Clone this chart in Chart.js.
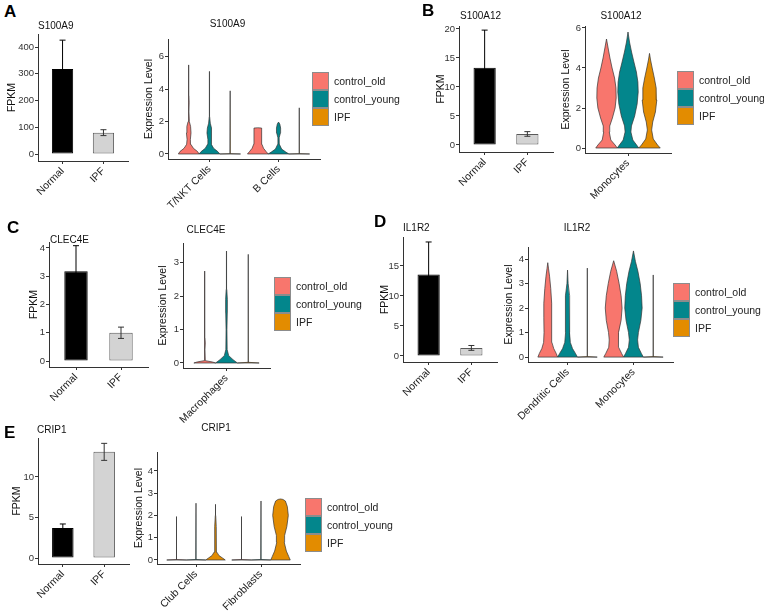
<!DOCTYPE html>
<html>
<head>
<meta charset="utf-8">
<script src="https://cdn.jsdelivr.net/npm/chart.js@4.4.0/dist/chart.umd.min.js"></script>
<style>
  html, body { margin: 0; background: #fff; }
  body { position: relative; width: 764px; height: 612px; overflow: hidden; font-family: "Liberation Sans", Arial, sans-serif; }
  canvas { position: absolute; }
  .letter { position: absolute; font-weight: bold; font-size: 17px; line-height: 17px; color: #000; }
  .ttl { position: absolute; font-size: 10px; line-height: 10px; color: #111; white-space: nowrap; }
  .leg { position: absolute; font-size: 10.5px; color: #222; }
  .leg div { height: 18px; display: flex; align-items: center; white-space: nowrap; }
  .leg span { display: inline-block; box-sizing: border-box; width: 17px; height: 18px; border: 1px solid #8c8c8c; margin-right: 5px; }
</style>
</head>
<body>
<script>
// ---- data ----
const barGroups = ['Normal', 'IPF'];
const barFill = ['#000000', '#D3D3D3'];
const barEdge = ['#000000', '#5a5a5a'];
const errColor = ['#000000', '#333333'];

const seriesNames = ['control_old', 'control_young', 'IPF'];
const seriesColors = ['#F8766D', '#03868C', '#E38C00'];

// FPKM means and error (one sd) for Normal / IPF
const S100A9_fpkm = [318, 80];
const S100A9_err = [108, 11];
const S100A12_fpkm = [13.3, 1.9];
const S100A12_err = [6.5, 0.4];
const CLEC4E_fpkm = [3.18, 1.0];
const CLEC4E_err = [0.9, 0.2];
const IL1R2_fpkm = [13.6, 1.35];
const IL1R2_err = [5.4, 0.4];
const CRIP1_fpkm = [3.7, 13.1];
const CRIP1_err = [0.5, 1.05];

// y tick labels
const S100A9_fpkmTicks = [0, 100, 200, 300, 400];
const S100A12_fpkmTicks = [0, 5, 10, 15, 20];
const CLEC4E_fpkmTicks = [0, 1, 2, 3, 4];
const IL1R2_fpkmTicks = [0, 5, 10, 15];
const CRIP1_fpkmTicks = [0, 5, 10];
const S100A9_exprTicks = [0, 2, 4, 6];
const S100A12_exprTicks = [0, 2, 4, 6];
const CLEC4E_exprTicks = [0, 1, 2, 3];
const IL1R2_exprTicks = [0, 1, 2, 3, 4];
const CRIP1_exprTicks = [0, 1, 2, 3, 4];

// cell types on the violin x axes
const S100A9_cells = ['T/NKT Cells', 'B Cells'];
const S100A12_cells = ['Monocytes'];
const CLEC4E_cells = ['Macrophages'];
const IL1R2_cells = ['Dendritic Cells', 'Monocytes'];
const CRIP1_cells = ['Club Cells', 'Fibroblasts'];

// violin outlines: [expression level, relative half width]
const S100A9_TNK_old = [[0,1],[0.15,0.85],[0.35,0.45],[0.6,0.2],[0.9,0.16],[1.3,0.22],[1.7,0.18],[2.0,0.06],[2.6,0.02],[3.2,0.04],[3.6,0.02],[4.5,0.01],[5.5,0]];
const S100A9_TNK_young = [[0,1],[0.15,0.8],[0.35,0.4],[0.6,0.18],[0.9,0.15],[1.3,0.24],[1.6,0.2],[1.9,0.08],[2.3,0.02],[3.5,0.015],[5.1,0]];
const S100A9_TNK_IPF = [[0,1],[0.02,0.02],[3.9,0]];
const S100A9_B_old = [[0,1],[0.15,0.8],[0.35,0.55],[0.6,0.4],[0.75,0.37],[1.6,0.37],[1.62,0]];
const S100A9_B_young = [[0,1],[0.12,0.7],[0.3,0.3],[0.6,0.08],[1.0,0.06],[1.3,0.18],[1.6,0.2],[1.85,0.12],[1.97,0]];
const S100A9_B_IPF = [[0,1],[0.02,0.02],[2.85,0]];

const S100A12_Mono_old = [[0,1],[0.15,0.8],[0.4,0.4],[0.8,0.26],[1.1,0.3],[1.5,0.55],[2.0,0.8],[2.5,0.9],[3.0,0.88],[3.5,0.75],[4.0,0.52],[4.5,0.32],[5.0,0.15],[5.45,0]];
const S100A12_Mono_young = [[0,1],[0.15,0.8],[0.4,0.45],[0.8,0.27],[1.1,0.32],[1.6,0.62],[2.2,0.85],[2.8,0.95],[3.3,0.92],[3.8,0.78],[4.3,0.55],[4.8,0.33],[5.3,0.14],[5.8,0]];
const S100A12_Mono_IPF = [[0,1],[0.15,0.75],[0.45,0.35],[0.9,0.2],[1.3,0.3],[1.8,0.55],[2.4,0.68],[3.0,0.62],[3.5,0.45],[4.0,0.25],[4.4,0.1],[4.73,0]];

const CLEC4E_Mac_old = [[0,1],[0.03,0.7],[0.07,0.05],[0.4,0.02],[0.6,0.05],[0.75,0.02],[1.5,0.01],[2.75,0]];
const CLEC4E_Mac_young = [[0,1],[0.1,0.6],[0.22,0.2],[0.4,0.06],[1.0,0.04],[1.5,0.07],[1.9,0.08],[2.2,0.03],[2.6,0.01],[3.35,0]];
const CLEC4E_Mac_IPF = [[0,1],[0.02,0.02],[3.25,0]];

const IL1R2_DC_old = [[0,1],[0.15,0.85],[0.35,0.6],[0.6,0.42],[1.0,0.38],[1.6,0.4],[2.2,0.4],[2.8,0.3],[3.3,0.18],[3.6,0.08],[3.85,0]];
const IL1R2_DC_young = [[0,1],[0.15,0.8],[0.35,0.5],[0.6,0.28],[1.0,0.2],[1.5,0.24],[2.0,0.24],[2.5,0.16],[3.0,0.06],[3.55,0]];
const IL1R2_DC_IPF = [[0,1],[0.02,0.02],[3.63,0]];
const IL1R2_Mono_old = [[0,1],[0.15,0.8],[0.4,0.5],[0.7,0.45],[1.0,0.52],[1.5,0.75],[2.0,0.85],[2.5,0.75],[3.0,0.55],[3.5,0.3],[3.93,0]];
const IL1R2_Mono_young = [[0,1],[0.15,0.8],[0.4,0.5],[0.7,0.42],[1.0,0.5],[1.5,0.75],[2.0,0.88],[2.5,0.82],[3.0,0.68],[3.5,0.45],[3.9,0.2],[4.33,0]];
const IL1R2_Mono_IPF = [[0,1],[0.02,0.02],[3.35,0]];

const CRIP1_Club_old = [[0,1],[0.02,0.02],[1.95,0]];
const CRIP1_Club_young = [[0,1],[0.02,0.02],[2.55,0]];
const CRIP1_Club_IPF = [[0,1],[0.08,0.75],[0.2,0.35],[0.35,0.15],[0.6,0.1],[1.0,0.09],[1.5,0.06],[2.0,0.02],[2.5,0]];
const CRIP1_Fib_old = [[0,1],[0.02,0.02],[1.95,0]];
const CRIP1_Fib_young = [[0,1],[0.02,0.02],[2.65,0]];
const CRIP1_Fib_IPF = [[0,1],[0.15,0.85],[0.4,0.6],[0.8,0.38],[1.1,0.42],[1.5,0.65],[2.0,0.8],[2.4,0.7],[2.65,0.5],[2.72,0.25],[2.74,0]];

// ---- drawing ----
Chart.defaults.font.family = '"Liberation Sans", Arial, sans-serif';
Chart.defaults.animation = false;
Chart.defaults.plugins.legend.display = false;
Chart.defaults.plugins.tooltip.enabled = false;

const PAD_TOP = 8, PAD_RIGHT = 12, X_H = 70;
const HALF = 0.15; // max half width of a violin, in x units
const gridOpts = { drawOnChartArea: false, offset: false, tickLength: 3, color: '#333', tickColor: '#333', tickWidth: 1 };
const borderOpts = { display: true, color: '#333', width: 1 };

function addCanvas(p) {
  const [l, r, t, b] = p.area;
  const w = r - p.canvasLeft + PAD_RIGHT;
  const h = b - t + PAD_TOP + X_H;
  const c = document.createElement('canvas');
  c.width = w; c.height = h;
  c.style.left = p.canvasLeft + 'px';
  c.style.top = (t - PAD_TOP) + 'px';
  c.style.width = w + 'px'; c.style.height = h + 'px';
  document.body.appendChild(c);
  return c;
}

function addText(str, x, y, cls, centered) {
  const d = document.createElement('div');
  d.className = cls;
  d.textContent = str;
  d.style.left = x + 'px';
  d.style.top = y + 'px';
  if (centered) d.style.transform = 'translateX(-50%)';
  document.body.appendChild(d);
}

function addLegend(x, y) {
  const d = document.createElement('div');
  d.className = 'leg';
  d.style.left = x + 'px'; d.style.top = y + 'px';
  seriesNames.forEach((n, i) => {
    const row = document.createElement('div');
    const sw = document.createElement('span');
    sw.style.background = seriesColors[i];
    row.appendChild(sw);
    row.appendChild(document.createTextNode(n));
    d.appendChild(row);
  });
  document.body.appendChild(d);
}

function makeScales(p, xTicks, xLabels) {
  const yw = p.area[0] - p.canvasLeft;
  return {
    x: {
      type: 'linear', min: p.xRange[0], max: p.xRange[1], offset: false,
      afterBuildTicks: s => { s.ticks = xTicks.map(v => ({ value: v })); },
      afterFit: s => { s.height = X_H; },
      ticks: { autoSkip: false, minRotation: 45, maxRotation: 45, padding: 1, color: '#222', font: { size: 10.5 },
               callback: v => xLabels[xTicks.indexOf(v)] },
      grid: gridOpts, border: borderOpts
    },
    y: {
      type: 'linear', min: p.yRange[0], max: p.yRange[1],
      afterBuildTicks: s => { s.ticks = p.yTicks.map(v => ({ value: v })); },
      afterFit: s => { s.width = yw; },
      ticks: { padding: 1, color: '#333', font: { size: 9.5 }, callback: v => String(v) },
      grid: gridOpts, border: borderOpts,
      title: { display: true, text: p.yTitle, color: '#111', font: { size: 10.5 }, padding: 0 }
    }
  };
}

function barChart(p) {
  const canvas = addCanvas(p);
  const xs = barGroups.map((g, i) => i + 1);
  const caps = [], capColors = [];
  xs.forEach((x, i) => {
    caps.push({ x, y: p.mean[i] + p.err[i] }, { x, y: p.mean[i] - p.err[i] });
    capColors.push(errColor[i], errColor[i]);
  });
  new Chart(canvas, {
    type: 'bar',
    data: {
      datasets: [
        { type: 'scatter', data: caps, pointStyle: 'line', pointRadius: 3, pointBorderWidth: 1,
          pointBorderColor: capColors, borderColor: '#333', order: 0 },
        { type: 'bar', data: xs.map((x, i) => ({ x, y: [p.mean[i] - p.err[i], p.mean[i] + p.err[i]] })),
          maxBarThickness: 1, backgroundColor: errColor, borderWidth: 0, grouped: false, order: 1 },
        { type: 'bar', data: xs.map((x, i) => ({ x, y: p.mean[i] })),
          backgroundColor: barFill, borderColor: barEdge, borderWidth: 1, borderSkipped: false,
          barPercentage: 0.52, categoryPercentage: 1, grouped: false, order: 2 }
      ]
    },
    options: {
      responsive: false,
      layout: { padding: { top: PAD_TOP, right: PAD_RIGHT, left: 0, bottom: 0 } },
      scales: makeScales({ ...p, xRange: [0.4, 2.6], yTitle: 'FPKM' }, xs, barGroups)
    }
  });
  addText(p.gene, p.titleAt[0], p.titleAt[1] - 5, 'ttl', false);
}

function violinChart(p) {
  const canvas = addCanvas(p);
  const datasets = [];
  p.violins.forEach((group, g) => group.forEach((prof, s) => {
    const c = g + 1 + (s - 1) * 0.3;
    const li = datasets.length;
    const left = [{ x: c + prof[0][1] * HALF, y: prof[0][0] }].concat(prof.map(q => ({ x: c - q[1] * HALF, y: q[0] })));
    const right = prof.map(q => ({ x: c + q[1] * HALF, y: q[0] }));
    datasets.push({ data: left, fill: li + 1, backgroundColor: seriesColors[s], borderColor: '#333',
                    borderWidth: 0.7, pointRadius: 0, tension: 0 });
    datasets.push({ data: right, fill: false, borderColor: '#333', borderWidth: 0.7, pointRadius: 0, tension: 0 });
  }));
  const xs = p.cells.map((c, i) => i + 1);
  new Chart(canvas, {
    type: 'line',
    data: { datasets },
    options: {
      indexAxis: 'y',
      responsive: false,
      layout: { padding: { top: PAD_TOP, right: PAD_RIGHT, left: 0, bottom: 0 } },
      plugins: { filler: { drawTime: 'beforeDatasetsDraw' } },
      scales: makeScales({ ...p, yTitle: 'Expression Level' }, xs, p.cells)
    }
  });
  addText(p.gene, p.titleAt[0], p.titleAt[1] - 5, 'ttl', true);
  addLegend(p.legendAt[0], p.legendAt[1]);
}

// panel A
addText('A', 4, 3, 'letter');
barChart({ gene: 'S100A9', mean: S100A9_fpkm, err: S100A9_err, yTicks: S100A9_fpkmTicks,
  yRange: [-26, 449], area: [38, 128, 34, 161], canvasLeft: 6, titleAt: [38, 26] });
violinChart({ gene: 'S100A9', cells: S100A9_cells,
  violins: [[S100A9_TNK_old, S100A9_TNK_young, S100A9_TNK_IPF], [S100A9_B_old, S100A9_B_young, S100A9_B_IPF]],
  yTicks: S100A9_exprTicks, yRange: [-0.31, 7.1], xRange: [0.4, 2.6],
  area: [168, 320, 39, 159], canvasLeft: 143, titleAt: [227.5, 24], legendAt: [312, 72] });

// panel B
addText('B', 422, 2, 'letter');
barChart({ gene: 'S100A12', mean: S100A12_fpkm, err: S100A12_err, yTicks: S100A12_fpkmTicks,
  yRange: [-1.21, 20.51], area: [459, 553, 26, 152], canvasLeft: 435, titleAt: [460, 16] });
violinChart({ gene: 'S100A12', cells: S100A12_cells,
  violins: [[S100A12_Mono_old, S100A12_Mono_young, S100A12_Mono_IPF]],
  yTicks: S100A12_exprTicks, yRange: [-0.25, 6.1], xRange: [0.4, 1.6],
  area: [585, 671, 26, 153], canvasLeft: 560, titleAt: [621, 16], legendAt: [677, 71] });

// panel C
addText('C', 7, 219, 'letter');
barChart({ gene: 'CLEC4E', mean: CLEC4E_fpkm, err: CLEC4E_err, yTicks: CLEC4E_fpkmTicks,
  yRange: [-0.21, 4.21], area: [49, 148, 242, 367], canvasLeft: 28, titleAt: [50, 240] });
violinChart({ gene: 'CLEC4E', cells: CLEC4E_cells,
  violins: [[CLEC4E_Mac_old, CLEC4E_Mac_young, CLEC4E_Mac_IPF]],
  yTicks: CLEC4E_exprTicks, yRange: [-0.15, 3.59], xRange: [0.4, 1.6],
  area: [183, 270, 243, 368], canvasLeft: 157, titleAt: [206, 230], legendAt: [274, 277] });

// panel D
addText('D', 374, 213, 'letter');
barChart({ gene: 'IL1R2', mean: IL1R2_fpkm, err: IL1R2_err, yTicks: IL1R2_fpkmTicks,
  yRange: [-1.0, 19.83], area: [403, 497, 237, 362], canvasLeft: 379, titleAt: [403, 228] });
violinChart({ gene: 'IL1R2', cells: IL1R2_cells,
  violins: [[IL1R2_DC_old, IL1R2_DC_young, IL1R2_DC_IPF], [IL1R2_Mono_old, IL1R2_Mono_young, IL1R2_Mono_IPF]],
  yTicks: IL1R2_exprTicks, yRange: [-0.2, 4.49], xRange: [0.4, 2.6],
  area: [528, 673, 247, 362], canvasLeft: 503, titleAt: [577, 228], legendAt: [673, 283] });

// panel E
addText('E', 4, 424, 'letter');
barChart({ gene: 'CRIP1', mean: CRIP1_fpkm, err: CRIP1_err, yTicks: CRIP1_fpkmTicks,
  yRange: [-0.74, 14.81], area: [38, 129, 438, 564], canvasLeft: 11, titleAt: [37, 430] });
violinChart({ gene: 'CRIP1', cells: CRIP1_cells,
  violins: [[CRIP1_Club_old, CRIP1_Club_young, CRIP1_Club_IPF], [CRIP1_Fib_old, CRIP1_Fib_young, CRIP1_Fib_IPF]],
  yTicks: CRIP1_exprTicks, yRange: [-0.18, 4.85], xRange: [0.4, 2.6],
  area: [157, 300, 452, 564], canvasLeft: 133, titleAt: [216, 428], legendAt: [305, 498] });
</script>
</body>
</html>
